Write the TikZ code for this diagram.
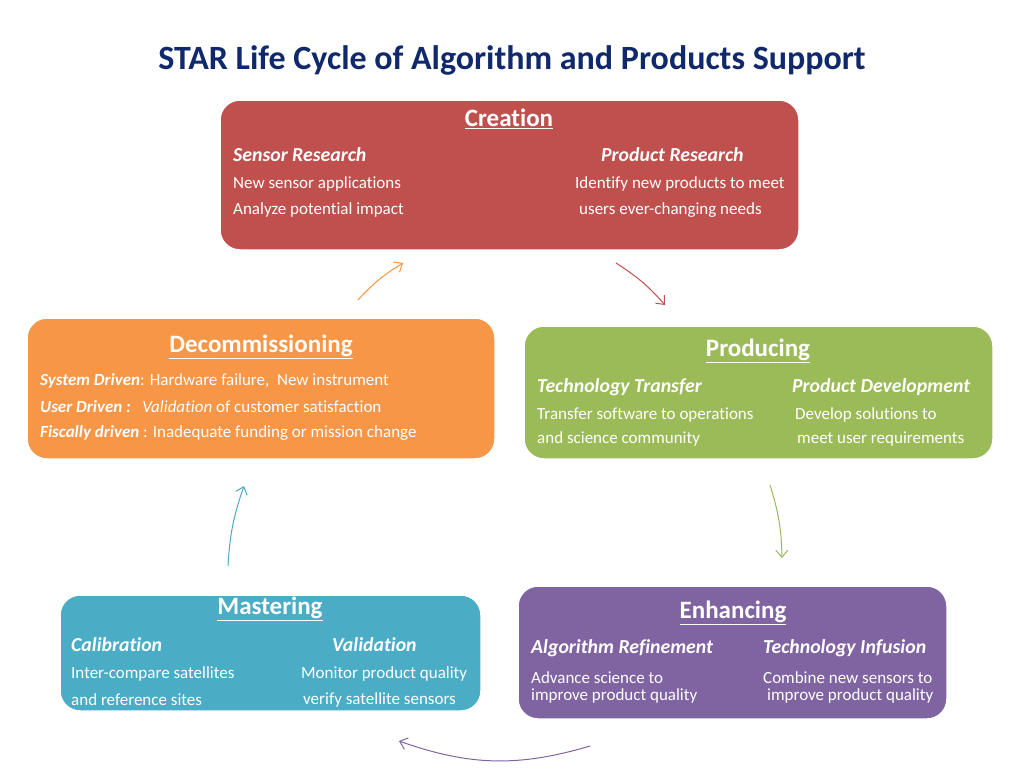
\documentclass[tikz,border=0pt]{standalone}
\usepackage{fontspec}
\setmainfont{Carlito}[Ligatures=NoCommon]
\usetikzlibrary{arrows.meta}
\definecolor{titleblue}{HTML}{10296B}
\definecolor{cred}{HTML}{C0504D}
\definecolor{corange}{HTML}{F79646}
\definecolor{cgreen}{HTML}{9BBB59}
\definecolor{cblue}{HTML}{4BACC6}
\definecolor{cpurple}{HTML}{8064A2}
\tikzset{
  stagebox/.style={draw=white, line width=1.5pt, rounded corners=20pt},
  headtxt/.style={text=white, font=\fontsize{25}{29}\selectfont\bfseries, anchor=center, inner sep=0pt},
  subtxt/.style={text=white, font=\fontsize{19.8}{23}\selectfont\bfseries\itshape, anchor=west, inner sep=0pt},
  bodytxt/.style={text=white, font=\fontsize{17}{20}\selectfont, anchor=west, inner sep=0pt},
  cyc/.style={line width=1pt, -{Straight Barb[length=7pt, width=12pt, line width=1pt]}},
}
\newcommand{\ul}[1]{\underline{#1}}
\begin{document}
\begin{tikzpicture}[x=1pt, y=-1pt]
\useasboundingbox (0,0) rectangle (1024,768);
\fill[white] (0,0) rectangle (1024,768);

\node[text=titleblue, font=\fontsize{34}{40}\selectfont\bfseries, inner sep=0pt] (title) at (512,60) {STAR Life Cycle of Algorithm and Products Support};

% Creation
\draw[stagebox, fill=cred] (220,100) rectangle (799,250);
\node[headtxt] (creh) at (509,119) {\ul{Creation}};
\node[subtxt] (cre1) at (233,155) {Sensor Research};
\node[subtxt] (cre2) at (601,155) {Product Research};
\node[bodytxt] (cre3) at (233,184) {New sensor applications};
\node[bodytxt] (cre4) at (233,210) {Analyze potential impact};
\node[bodytxt] (cre5) at (575,184) {Identify new products to meet};
\node[bodytxt] (cre6) at (579,210) {users ever-changing needs};

% Decommissioning
\draw[stagebox, fill=corange] (27,318) rectangle (495,459);
\node[headtxt] (dech) at (261,347) {\ul{Decommissioning}};
\node[bodytxt] (dec1) at (40,381) {\textbf{\textit{System Driven}}: Hardware failure,\ \ New instrument};
\node[bodytxt] (dec2) at (40,407) {\textbf{\textit{User Driven :}}\ \ \ \textit{Validation} of customer satisfaction};
\node[bodytxt] (dec3) at (40,433) {\textbf{\textit{Fiscally driven}} : Inadequate funding or mission change};

% Producing
\draw[stagebox, fill=cgreen] (524,326) rectangle (993,459);
\node[headtxt] (proh) at (758,351) {\ul{Producing}};
\node[subtxt] (pro1) at (537,387) {Technology Transfer};
\node[subtxt] (pro2) at (792,387) {Product Development};
\node[bodytxt] (pro3) at (537,415) {Transfer software to operations};
\node[bodytxt] (pro4) at (537,439) {and science community};
\node[bodytxt] (pro5) at (795,415) {Develop solutions to};
\node[bodytxt] (pro6) at (797,439) {meet user requirements};

% Mastering
\draw[stagebox, fill=cblue] (60,595) rectangle (481,711);
\node[headtxt] (mash) at (270,609) {\ul{Mastering}};
\node[subtxt] (mas1) at (71,645) {Calibration};
\node[subtxt] (mas2) at (332,645) {Validation};
\node[bodytxt] (mas3) at (71,674) {Inter-compare satellites};
\node[bodytxt] (mas4) at (71,700) {and reference sites};
\node[bodytxt] (mas5) at (301,674) {Monitor product quality};
\node[bodytxt] (mas6) at (303,700) {verify satellite sensors};

% Enhancing
\draw[stagebox, fill=cpurple] (518,586) rectangle (947,719);
\node[headtxt] (enhh) at (733,613) {\ul{Enhancing}};
\node[subtxt] (enh1) at (531,648) {Algorithm Refinement};
\node[subtxt] (enh2) at (763,648) {Technology Infusion};
\node[bodytxt] (enh3) at (531,678) {Advance science to};
\node[bodytxt] (enh4) at (531,696) {improve product quality};
\node[bodytxt] (enh5) at (763,678) {Combine new sensors to};
\node[bodytxt] (enh6) at (767,696) {improve product quality};

% cycle arrows
\coordinate (a1s) at (358,300); \coordinate (a1e) at (403,263);
\coordinate (a2s) at (616,263); \coordinate (a2e) at (665,305);
\coordinate (a3s) at (770,485); \coordinate (a3e) at (782,558);
\coordinate (a4s) at (590,746); \coordinate (a4e) at (399,741);
\coordinate (a5s) at (228,566); \coordinate (a5e) at (244,486);
\draw[cyc, draw=corange] (a1s) to[bend left=8] (a1e);
\draw[cyc, draw=cred] (a2s) to[bend left=8] (a2e);
\draw[cyc, draw=cgreen] (a3s) to[bend left=8] (a3e);
\draw[cyc, draw=cpurple] (a4s) to[bend left=18] (a4e);
\draw[cyc, draw=cblue] (a5s) to[bend left=8] (a5e);
\end{tikzpicture}
\end{document}
